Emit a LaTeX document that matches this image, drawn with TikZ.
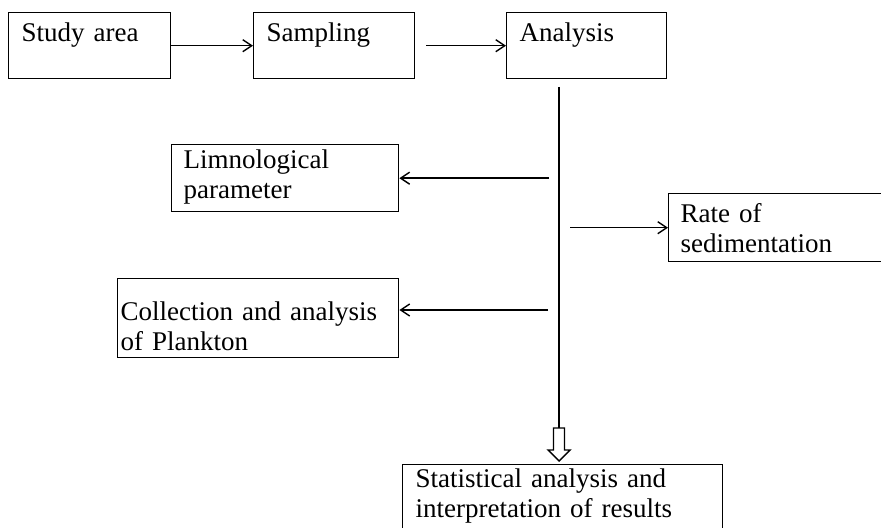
\documentclass[tikz,border=0pt]{standalone}
\usepackage{fontspec}
\setmainfont{Liberation Serif}
\usetikzlibrary{arrows.meta}

\begin{document}
\begin{tikzpicture}[
  x=0.5pt, y=-0.5pt,
  every node/.style={font=\fontsize{13.5}{15}\selectfont},
  box/.style={
    draw=black, line width=0.7pt, anchor=north west,
    align=left, inner xsep=6.5pt, inner ysep=0pt,
    text height=14.5pt, text depth=18.5pt
  },
  arr/.style={-{Straight Barb[length=4.5pt,width=6pt]}, line width=0.7pt},
  trunk/.style={line width=0.9pt},
  hollow/.style={draw=black, fill=white, line width=0.7pt}
]
\clip (0,0) rectangle (881,528);

% --- top row ---
\node[box, text width=68pt] (study) at (8,12) {Study area};
\node[box, text width=67.5pt] (sampling) at (253,12) {Sampling};
\node[box, text width=67pt] (analysis) at (506,12) {Analysis};

\draw[arr] (study.east) -- (sampling.west);
\draw[arr] ([xshift=5.5pt]sampling.east) -- (analysis.west);

% --- branches ---
\node[box, inner xsep=6pt, text width=101.5pt,
      text height=12pt, text depth=21.5pt] (limno) at (171,144) {Limnological\\parameter};
\node[box, inner xsep=6pt, text width=104pt,
      text depth=19.5pt] (rate) at (668,193) {Rate of\\sedimentation};
\node[box, inner xsep=1.5pt, text width=137.5pt,
      text height=21pt, text depth=18.5pt] (coll) at (117,278) {Collection and analysis\\of Plankton};
\node[box, inner xsep=6.5pt, text width=147pt,
      text height=11.5pt, text depth=27pt] (stats) at (402,464) {Statistical analysis and\\interpretation of results};

% trunk from analysis down to the results
\coordinate (trunktop) at (559,87);
\coordinate (bot) at (559,428);
\draw[trunk] (trunktop) -- (bot);

\coordinate (left) at (549,0);
\coordinate (right) at (570,0);
\coordinate (cfrom) at (548,310);
\draw[arr] (limno.east -| left) -- (limno.east);
\draw[arr] (rate.west -| right) -- (rate.west);
\draw[arr] (cfrom) -- (cfrom -| coll.east);

% hollow arrow into results
\draw[hollow] (bot) ++(-5.5,0) -- ++(0,22) -- ++(-5.5,0) -- ++(11,11)
  -- ++(11,-11) -- ++(-5.5,0) -- ++(0,-22) -- cycle;

\end{tikzpicture}
\end{document}
